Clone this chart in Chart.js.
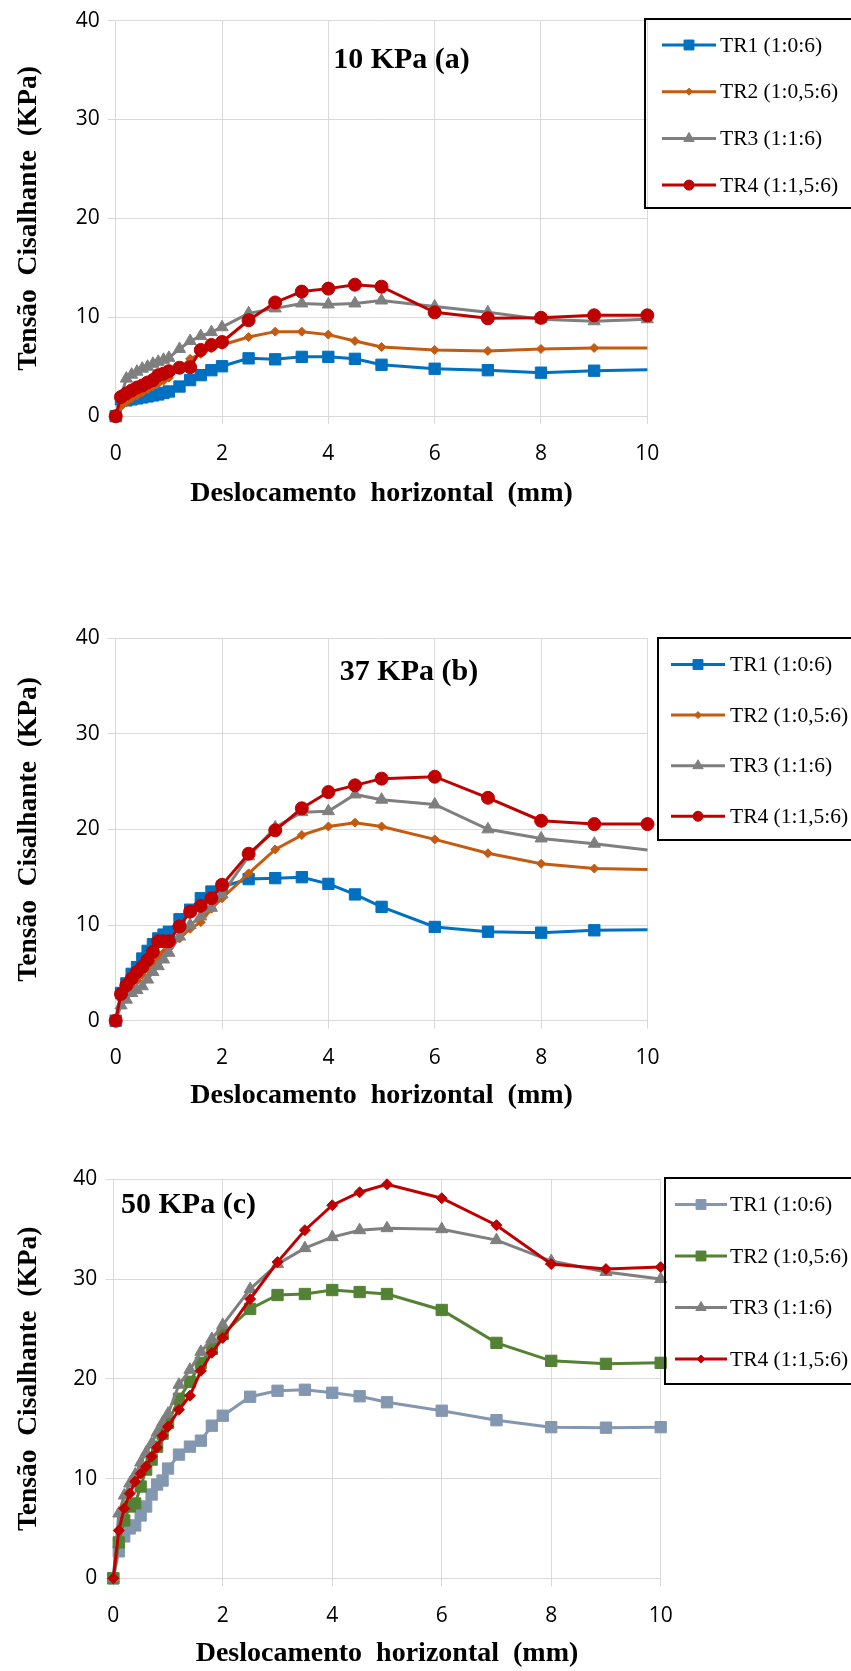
<!doctype html>
<html><head>
<meta charset="utf-8">
<title>Tensão Cisalhante x Deslocamento horizontal</title>
<script src="https://cdn.jsdelivr.net/npm/chart.js"></script>
<style>
  html, body { margin: 0; padding: 0; background: #fff; }
  body { width: 851px; height: 1671px; position: relative; overflow: hidden; }
  canvas { position: absolute; left: 0; }
</style>
</head>
<body>
<canvas id="c1" width="851" height="530" style="top:0px"></canvas>
<canvas id="c2" width="851" height="530" style="top:590px"></canvas>
<canvas id="c3" width="851" height="531" style="top:1140px"></canvas>
<script>
// deslocamento horizontal (mm)
const deslocamento = [0, 0.1, 0.2, 0.3, 0.4, 0.5, 0.6, 0.7, 0.8, 0.9, 1.0, 1.2, 1.4, 1.6, 1.8, 2.0, 2.5, 3, 3.5, 4, 4.5, 5, 6, 7, 8, 9, 10];
const xTicks = [0, 2, 4, 6, 8, 10];
const yTicks = [0, 10, 20, 30, 40];
const nomes = ['TR1 (1:0:6)', 'TR2 (1:0,5:6)', 'TR3 (1:1:6)', 'TR4 (1:1,5:6)'];

// 10 KPa (a)
const tr1_10 = [0, 1.7, 1.6, 1.7, 1.8, 1.9, 2.0, 2.1, 2.2, 2.35, 2.5, 3.0, 3.65, 4.15, 4.65, 5.05, 5.85, 5.75, 6.0, 6.0, 5.8, 5.2, 4.8, 4.65, 4.4, 4.6, 4.7];
const tr2_10 = [0, 1.0, 1.4, 1.8, 2.1, 2.4, 2.7, 3.0, 3.3, 3.6, 3.9, 4.8, 5.8, 6.3, 6.85, 7.2, 8.0, 8.55, 8.55, 8.25, 7.6, 7.0, 6.7, 6.6, 6.8, 6.9, 6.9];
const tr3_10 = [0, 2.0, 3.8, 4.2, 4.5, 4.8, 5.0, 5.3, 5.5, 5.7, 5.9, 6.8, 7.6, 8.1, 8.5, 9.0, 10.4, 10.9, 11.4, 11.3, 11.4, 11.7, 11.1, 10.5, 9.8, 9.6, 9.8];
const tr4_10 = [0, 1.95, 2.3, 2.6, 2.9, 3.1, 3.4, 3.65, 4.15, 4.3, 4.55, 4.9, 4.95, 6.7, 7.2, 7.5, 9.7, 11.5, 12.6, 12.9, 13.3, 13.1, 10.5, 9.9, 9.95, 10.2, 10.2];

// 37 KPa (b)
const tr1_37 = [0, 2.9, 3.9, 4.9, 5.6, 6.5, 7.3, 8.0, 8.6, 9.0, 9.3, 10.6, 11.6, 12.8, 13.5, 14.0, 14.8, 14.9, 15.0, 14.3, 13.2, 11.9, 9.8, 9.3, 9.2, 9.45, 9.5];
const tr2_37 = [0, 2.2, 2.9, 3.6, 4.2, 4.8, 5.4, 6.0, 6.6, 7.1, 7.6, 8.6, 9.6, 10.3, 11.7, 12.8, 15.4, 17.9, 19.4, 20.3, 20.7, 20.3, 18.95, 17.5, 16.4, 15.9, 15.8];
const tr3_37 = [0, 1.6, 2.2, 2.9, 3.2, 3.6, 4.3, 5.1, 5.7, 6.4, 7.1, 8.8, 10.0, 10.9, 11.8, 13.2, 17.2, 20.2, 21.8, 21.9, 23.65, 23.1, 22.6, 20.0, 19.05, 18.5, 17.85];
const tr4_37 = [0, 2.8, 3.7, 4.4, 5.1, 5.65, 6.35, 7.2, 8.3, 8.3, 8.3, 9.85, 11.4, 12.0, 12.8, 14.2, 17.45, 19.9, 22.2, 23.9, 24.6, 25.3, 25.5, 23.3, 20.9, 20.55, 20.55];

// 50 KPa (c)
const tr1_50 = [0, 2.7, 4.2, 5.0, 5.3, 6.3, 7.2, 8.4, 9.4, 9.8, 11.0, 12.4, 13.2, 13.8, 15.3, 16.3, 18.2, 18.8, 18.9, 18.6, 18.25, 17.65, 16.8, 15.85, 15.15, 15.1, 15.15];
const tr2_50 = [0, 3.6, 5.8, 7.2, 7.5, 9.2, 10.9, 11.9, 13.2, 14.5, 15.6, 18.0, 19.7, 21.6, 23.0, 24.5, 27.0, 28.4, 28.5, 28.9, 28.7, 28.5, 26.9, 23.6, 21.8, 21.5, 21.6];
const tr3_50 = [0, 6.5, 8.3, 9.5, 10.4, 11.6, 12.6, 13.5, 14.6, 15.6, 16.5, 19.4, 20.9, 22.7, 24.0, 25.4, 29.0, 31.5, 33.1, 34.2, 34.9, 35.1, 35.0, 33.9, 31.8, 30.7, 30.0];
const tr4_50 = [0, 4.8, 7.0, 8.5, 9.7, 10.5, 11.2, 12.2, 13.1, 14.3, 15.2, 16.9, 18.3, 20.8, 22.6, 24.1, 28.0, 31.7, 34.9, 37.4, 38.7, 39.5, 38.1, 35.4, 31.5, 31.0, 31.2];

const SERIF = '"Liberation Serif", "Times New Roman", serif';
const SANS = '"Open Sans", sans-serif';

// caixa de legenda + titulo do ensaio
const caixaLegenda = {
  id: 'caixaLegenda',
  afterDraw(chart, args, o) {
    const ctx = chart.ctx;
    ctx.save();
    ctx.strokeStyle = '#000';
    ctx.lineWidth = 2;
    ctx.strokeRect(o.left, o.top, 870 - o.left, o.bottom - o.top); // borda direita fica fora da imagem
    chart.data.datasets.forEach((ds, i) => {
      const y = o.firstY + i * o.gap;
      ctx.strokeStyle = ds.borderColor;
      ctx.lineWidth = ds.borderWidth;
      ctx.beginPath();
      ctx.moveTo(o.lineX, y);
      ctx.lineTo(o.lineX + o.lineW, y);
      ctx.stroke();
      ctx.fillStyle = ds.borderColor;
      ctx.lineWidth = 1;
      Chart.helpers.drawPoint(ctx, { pointStyle: ds.pointStyle, radius: ds.raioLegenda, borderWidth: 1, rotation: 0 },
        o.lineX + o.lineW / 2, y);
      ctx.fillStyle = '#000';
      ctx.font = '21.5px ' + SERIF;
      ctx.textBaseline = 'middle';
      ctx.textAlign = 'left';
      ctx.fillText(ds.label, o.textX, y + 1);
    });
    ctx.font = 'bold 30px ' + SERIF;
    ctx.textAlign = 'center';
    ctx.textBaseline = 'alphabetic';
    ctx.fillText(o.titulo, o.tituloX, o.tituloY);
    ctx.restore();
  }
};

function serie(i, vals, cor, estilo, raio, raioLeg, semUltimo) {
  return {
    label: nomes[i],
    data: deslocamento.map((x, k) => ({ x: x, y: vals[k] })),
    borderColor: cor,
    backgroundColor: cor,
    pointBackgroundColor: cor,
    pointBorderColor: cor,
    borderWidth: 3,
    pointBorderWidth: 1,
    pointStyle: estilo,
    raioLegenda: raioLeg,
    pointRadius: ctx => (semUltimo && ctx.dataIndex === deslocamento.length - 1) ? 0 : raio,
    pointHoverRadius: raio,
    tension: 0,
    clip: false,
    order: 4 - i
  };
}

function grafico(id, datasets, g) {
  new Chart(document.getElementById(id), {
    type: 'line',
    data: { datasets: datasets },
    plugins: [caixaLegenda],
    options: {
      responsive: false,
      animation: false,
      layout: { padding: { left: 0, top: g.padTop, right: 851 - g.plotRight, bottom: 0 } },
      plugins: {
        legend: { display: false },
        tooltip: { enabled: false },
        caixaLegenda: g.legenda
      },
      scales: {
        x: {
          type: 'linear', min: 0, max: 10,
          afterBuildTicks: s => { s.ticks = xTicks.map(v => ({ value: v })); },
          afterFit: s => { s.height = g.xHeight; },
          grid: { color: '#D9D9D9', lineWidth: 1, tickLength: 8, tickColor: '#D9D9D9' },
          border: { color: '#D9D9D9' },
          ticks: { color: '#000', font: { family: SANS, size: 21 }, padding: 17, maxRotation: 0 },
          title: { display: true, text: 'Deslocamento  horizontal  (mm)', color: '#000',
                   font: { family: SERIF, size: 28, weight: 'bold' }, padding: { top: 0, bottom: g.xTitlePad } }
        },
        y: {
          type: 'linear', min: 0, max: 40,
          afterBuildTicks: s => { s.ticks = yTicks.map(v => ({ value: v })); },
          afterFit: s => { s.width = g.plotLeft; },
          grid: { color: '#D9D9D9', lineWidth: 1, tickLength: 8, tickColor: '#D9D9D9' },
          border: { color: '#D9D9D9' },
          ticks: { color: '#000', font: { family: SANS, size: 21 }, padding: 8 },
          title: { display: true, text: 'Tensão  Cisalhante  (KPa)', color: '#000',
                   font: { family: SERIF, size: 27.5, weight: 'bold' }, padding: { top: 12, bottom: 0 } }
        }
      }
    }
  });
}

const azul = '#0070C0', laranja = '#C55A11', cinza = '#7F7F7F', vermelho = '#C00000';
const azulCinza = '#8497B0', verde = '#548235';

grafico('c1', [
  serie(0, tr1_10, azul, 'rect', 8, 7, true),
  serie(1, tr2_10, laranja, 'rectRot', 4.5, 3.5, true),
  serie(2, tr3_10, cinza, 'triangle', 7, 6, false),
  serie(3, tr4_10, vermelho, 'circle', 6.5, 5, false)
], {
  padTop: 19, plotRight: 647.3, plotLeft: 115.7, xHeight: 530 - 416.2, xTitlePad: 19,
  legenda: { left: 645, top: 19, bottom: 208, lineX: 662, lineW: 54, firstY: 45, gap: 46.7, textX: 720,
             titulo: '10 KPa (a)', tituloX: 401.5, tituloY: 68 }
});

grafico('c2', [
  serie(0, tr1_37, azul, 'rect', 8, 7, true),
  serie(1, tr2_37, laranja, 'rectRot', 4.5, 3.5, true),
  serie(2, tr3_37, cinza, 'triangle', 7, 6, true),
  serie(3, tr4_37, vermelho, 'circle', 6.5, 5, false)
], {
  padTop: 48, plotRight: 647.5, plotLeft: 115.7, xHeight: 530 - 430.7, xTitlePad: 7,
  legenda: { left: 658, top: 48, bottom: 250, lineX: 671, lineW: 54, firstY: 74.5, gap: 50.6, textX: 730,
             titulo: '37 KPa (b)', tituloX: 409, tituloY: 89.5 }
});

grafico('c3', [
  serie(0, tr1_50, azulCinza, 'rect', 8, 7, false),
  serie(1, tr2_50, verde, 'rect', 8, 7, false),
  serie(2, tr3_50, cinza, 'triangle', 7, 6, false),
  serie(3, tr4_50, vermelho, 'rectRot', 5.5, 4, false)
], {
  padTop: 39.3, plotRight: 660.7, plotLeft: 113.3, xHeight: 531 - 438.3, xTitlePad: 0,
  legenda: { left: 665, top: 38, bottom: 244, lineX: 675, lineW: 52, firstY: 64.5, gap: 51.5, textX: 730,
             titulo: '50 KPa (c)', tituloX: 188.5, tituloY: 73 }
});
</script>
</body></html>
